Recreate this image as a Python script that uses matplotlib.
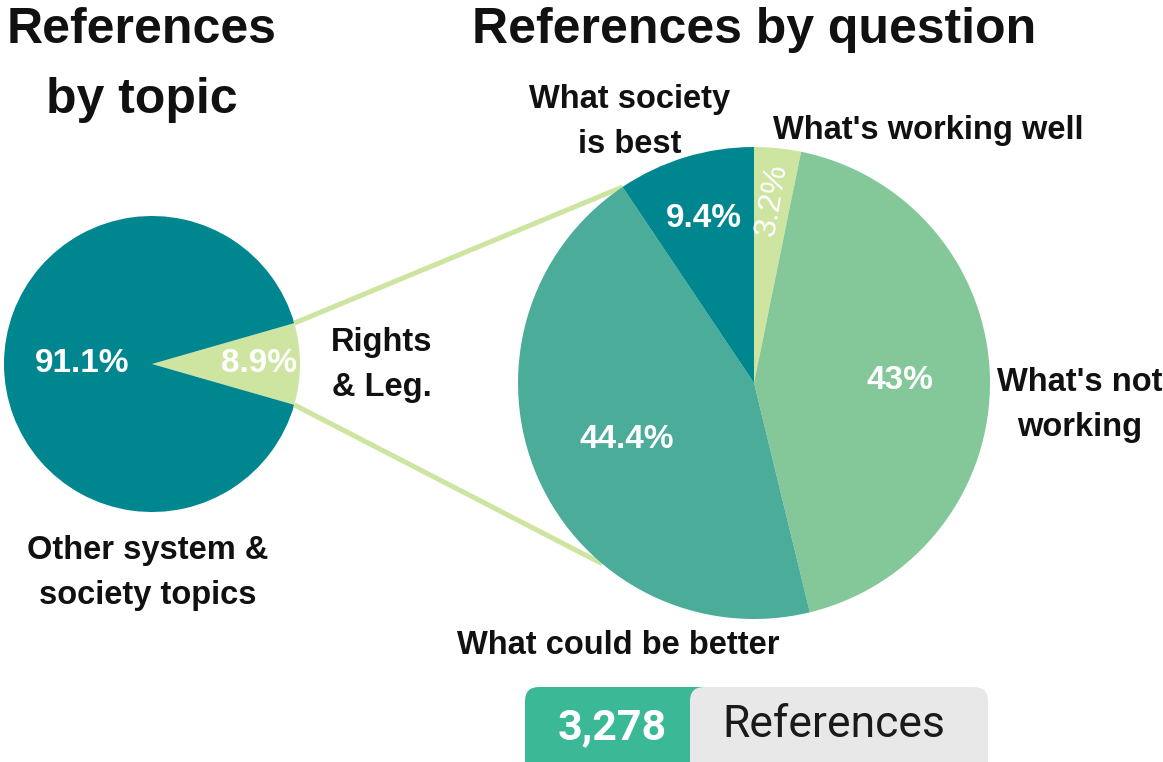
import numpy as np
import matplotlib
matplotlib.use("Agg")
import matplotlib.pyplot as plt
from matplotlib.patches import FancyBboxPatch

# Data
topic_labels = ["Rights & Leg.", "Other system & society topics"]
topic_values = [8.9, 91.1]
question_labels = ["What's working well", "What's not working",
                   "What could be better", "What society is best"]
question_values = [3.2, 43.0, 44.4, 9.4]
total_refs = "3,278"

DARK_TEAL = "#00868F"
LIGHT_GREEN = "#CDE5A1"
MID_GREEN = "#84C899"
TEAL = "#4AAC99"
BADGE_GREEN = "#3BB996"
BADGE_GRAY = "#E8E8E8"

W, H = 1163, 762
fig = plt.figure(figsize=(W / 100, H / 100), dpi=100)
ax = fig.add_axes([0, 0, 1, 1])
FONT = "Liberation Sans"


def Y(y):
    return H - y


# Left pie: small slice centred on the right-hand side
lc = (152, Y(364))
lr = 148
half = topic_values[0] * 3.6 / 2
ax.pie(topic_values, colors=[LIGHT_GREEN, DARK_TEAL], startangle=-half,
       counterclock=True, center=lc, radius=lr, frame=True,
       wedgeprops=dict(linewidth=0))

# Right pie: clockwise from 12 o'clock
rc = (754, Y(383))
rr = 236
ax.pie(question_values, colors=[LIGHT_GREEN, MID_GREEN, TEAL, DARK_TEAL],
       startangle=90, counterclock=False, center=rc, radius=rr, frame=True,
       wedgeprops=dict(linewidth=0, zorder=3))

# Connector lines from the small slice to the detail pie
top_end_ang = 90 + question_values[3] * 3.6
bot_end_ang = 230
p_top = (lc[0] + lr * np.cos(np.radians(half)), lc[1] + lr * np.sin(np.radians(half)))
p_bot = (lc[0] + lr * np.cos(np.radians(-half)), lc[1] + lr * np.sin(np.radians(-half)))
q_top = (rc[0] + rr * np.cos(np.radians(top_end_ang)), rc[1] + rr * np.sin(np.radians(top_end_ang)))
q_bot = (rc[0] + rr * np.cos(np.radians(bot_end_ang)), rc[1] + rr * np.sin(np.radians(bot_end_ang)))
for p, q in [(p_top, q_top), (p_bot, q_bot)]:
    ax.plot([p[0], q[0]], [p[1], q[1]], color=LIGHT_GREEN, lw=3.6,
            solid_capstyle="butt", zorder=1)

# Percent labels on the left pie
white = dict(color="white", fontsize=24, fontweight="bold", family=FONT,
             ha="center", va="center", zorder=5)
ax.text(lc[0] + 0.72 * lr, lc[1], f"{topic_values[0]:g}%", **white)
ax.text(lc[0] - 0.47 * lr, lc[1], f"{topic_values[1]:g}%", **white)

# Percent labels on the right pie
cum = 0
dists = [0.78, 0.62, 0.59, 0.73]
for v, d in zip(question_values, dists):
    mid = 90 - (cum + v / 2) * 3.6
    cum += v
    x = rc[0] + d * rr * np.cos(np.radians(mid))
    y = rc[1] + d * rr * np.sin(np.radians(mid))
    kw = dict(white)
    if v < 5:
        kw["rotation"] = mid - 4
        kw["fontweight"] = "normal"
        kw["fontsize"] = 23
    ax.text(x, y, f"{v:g}%", **kw)

# Category labels
lab = dict(color="#111111", fontsize=23.5, fontweight="bold", family=FONT,
           ha="center", va="center", linespacing=1.55)
ax.text(148, Y(573), "Other system &\nsociety topics", **lab)
ax.text(382, Y(365), "Rights\n& Leg.", **lab)
ax.text(630, Y(122), "What society\nis best", **lab)
ax.text(928, Y(130), "What's working well", **lab)
ax.text(1080, Y(405), "What's not\nworking", **lab)
ax.text(618, Y(645), "What could be better", **lab)

# Titles
ttl = dict(color="#111111", fontsize=36, fontweight="bold", family=FONT,
           ha="center", va="center")
ax.text(142, Y(30), "References", **ttl)
ax.text(142, Y(100), "by topic", **ttl)
ax.text(754, Y(30), "References by question", **ttl)

# Count badge
ax.add_patch(FancyBboxPatch((525, Y(775)), 200, 88,
                            boxstyle="round,pad=0,rounding_size=14",
                            fc=BADGE_GREEN, ec="none", zorder=2))
ax.add_patch(FancyBboxPatch((690, Y(775)), 298, 88,
                            boxstyle="round,pad=0,rounding_size=14",
                            fc=BADGE_GRAY, ec="none", zorder=3))
ax.text(612, Y(728), total_refs, color="white", fontsize=31,
        fontweight="bold", family="Roboto", ha="center", va="center", zorder=4)
ax.text(834, Y(725), "References", color="#1a1a1a", fontsize=32,
        family="Roboto", ha="center", va="center", zorder=4)

ax.set_xlim(0, W)
ax.set_ylim(0, H)
ax.set_aspect("auto")
ax.axis("off")

fig.savefig("out.png", dpi=100, facecolor="white")
